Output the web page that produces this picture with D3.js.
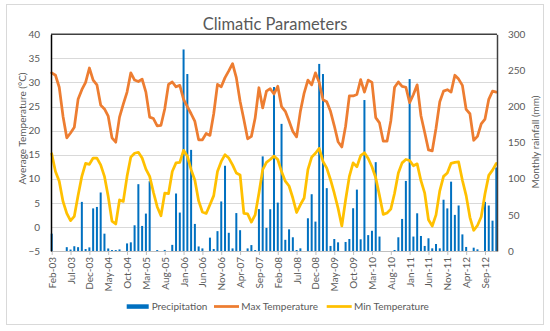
<!DOCTYPE html>
<html>
<head>
<meta charset="utf-8">
<script src="https://cdn.jsdelivr.net/npm/d3@7"></script>
<style>
  body { margin: 0; background: #fff; }
  text { font-family: Lato, "Open Sans", sans-serif; fill: #595959; }
</style>
</head>
<body>
<div id="chart"></div>
<script>
// monthly values, Feb-03 .. Dec-12 (119 months)
var precipitation = [24,0,0,0,5.3,2,6.6,5.3,68,2.7,5,59,61,81,24,3.5,1.3,1.3,2.2,0,
  10.5,12,35.6,92.5,34.7,51.8,96.6,0,1.3,0,1.5,0,8.5,79.6,53.2,279,245,140,37.5,6.3,
  3.6,0,18.5,2.8,27.5,68.6,118,25.2,3.6,52.5,28.8,0,3.6,8.2,1.3,58,131,32,57.8,227,
  67,176,15.5,30,19,1.4,3.7,0,45.3,78.6,40.7,259,245,87,7,16.6,12,0,12.5,16.6,
  59.2,85,16.2,209,22,28,123,20,0,0,0,1.4,19,44.4,97,238,20,52.2,20.8,7,
  17.6,3.7,9.7,3.7,71,59,96,50,63,23,5.6,0,4.6,2.3,0,68,63,42,115.6];

var maxTemp = [32,31.5,29,23,18.5,19.5,20.7,26.5,28.5,30,33,30.5,29.5,25.3,24.5,23,18.5,17.6,22.8,25.5,
  28,32,30.5,30.2,30.7,28,22.8,22.5,21,21.1,24.5,29.6,30.1,29.1,29.4,26.5,25,23.5,21.9,18.1,
  18.1,19.4,19,23.5,29.6,29.1,31,32.4,33.9,31,26.1,22.3,18.3,18.8,22.6,28.9,24.7,28.2,28.7,27.6,
  29.2,25,24,22,19.8,18.7,24,27.8,30.5,29.5,32,30,26.4,26,24,21,17.7,16.6,20.9,27.2,
  27.2,27.5,30.6,28,30.5,30,22.7,21.6,17.8,17.8,22,29,30.1,29.2,29,25.8,27.5,29.5,23.1,19.6,
  16,15.8,20.5,26,28.2,28.5,28,31.5,30.7,29.4,24.4,23.5,18,18.8,21.4,22.4,26.5,28.2,28];

var minTemp = [15.2,11.5,9.5,5.3,2.8,1.3,2.2,6.5,10.5,13.2,13,14.3,14.3,12.9,10.5,6.3,1.2,0.6,5.6,5.3,
  10.5,14.5,15.3,15.5,14.3,12,10.5,7.2,4.2,2.3,7,6.9,11.5,13.3,13.4,15.9,14.7,11.9,9.7,5.4,
  3.1,2.8,4.6,6.5,11.5,13.6,15,14.3,12.9,11.2,10.8,2.8,2.7,1,2.5,7,11.9,13.4,14,14.7,
  14,11.5,9.5,8.5,6,3,4.6,6,11.9,14.5,15.3,16.3,13.6,12.2,9.8,7,3.9,0.2,5.6,10.5,
  13.3,12.5,14.8,15.4,14.2,12.5,10.2,6.5,2.6,2.9,3.7,7,11.2,13.3,14,13.8,12.7,13.1,9.6,7,
  1.5,0.2,2.5,7.5,10.5,11.2,13.2,13.4,13.5,9.7,6.5,2,-0.7,0.3,2.1,6.9,10.7,11.8,13.2];

var tempTicks = [-5,0,5,10,15,20,25,30,35,40];
var rainTicks = [0,50,100,150,200,250,300];
var seriesNames = ["Precipitation", "Max Temperature", "Min Temperature"];
var seriesColors = ["#0070C0", "#ED7D31", "#FFC000"];

var firstMonth = new Date(2003, 1, 1);
var months = d3.timeMonth.range(firstMonth, d3.timeMonth.offset(firstMonth, precipitation.length));
var categories = months.map(d3.timeFormat("%b-%y"));
var tickLabels = categories.filter(function(d, i) { return i % 5 == 0; });

var width = 550, height = 331;
var plot = {left: 51, right: 497, top: 34.3, bottom: 251};

var svg = d3.select("#chart").append("svg")
    .attr("width", width)
    .attr("height", height);

// outer chart border
svg.append("rect")
    .attr("x", 6.5).attr("y", 4.5)
    .attr("width", 537).attr("height", 320)
    .attr("fill", "#fff")
    .attr("stroke", "#d9d9d9");

var xscale = d3.scalePoint()
    .domain(categories)
    .range([plot.left + 0.7, plot.right - 0.7]);

var ytemp = d3.scaleLinear()
    .domain([-5, 40])
    .range([plot.bottom, plot.top]);

var yrain = d3.scaleLinear()
    .domain([0, 300])
    .range([plot.bottom, plot.top]);

// gridlines
svg.append("g")
  .selectAll("line")
  .data(tempTicks.slice(1, -1))
  .join("line")
    .attr("x1", plot.left).attr("x2", plot.right)
    .attr("y1", function(d) { return Math.round(ytemp(d)) + 0.5; })
    .attr("y2", function(d) { return Math.round(ytemp(d)) + 0.5; })
    .attr("stroke", "#d9d9d9");

// precipitation bars
svg.append("g")
  .selectAll("rect")
  .data(precipitation)
  .join("rect")
    .attr("x", function(d, i) { return xscale(categories[i]) - 1; })
    .attr("y", function(d) { return yrain(d); })
    .attr("width", 2)
    .attr("height", function(d) { return plot.bottom - yrain(d); })
    .attr("fill", seriesColors[0]);

// temperature lines
var line = d3.line()
    .x(function(d, i) { return xscale(categories[i]); })
    .y(function(d) { return ytemp(d); });

[maxTemp, minTemp].forEach(function(series, k) {
  svg.append("path")
      .datum(series)
      .attr("d", line)
      .attr("fill", "none")
      .attr("stroke", seriesColors[k + 1])
      .attr("stroke-width", 2.75)
      .attr("stroke-linejoin", "round")
      .attr("stroke-linecap", "round");
});

// axes
var gx = svg.append("g")
    .attr("transform", "translate(0," + plot.bottom + ")")
    .call(d3.axisBottom(xscale).tickValues(tickLabels).tickSizeInner(4).tickSizeOuter(0));
gx.select(".domain").remove();
gx.selectAll(".tick line").attr("stroke", "#bfbfbf");
gx.selectAll(".tick text")
    .attr("transform", "translate(0,6) rotate(-90)")
    .attr("x", 0).attr("y", 0).attr("dy", "0.35em")
    .attr("text-anchor", "end")
    .attr("font-size", 10)
    .attr("fill", "#595959");

svg.append("line")
    .attr("x1", plot.left).attr("x2", plot.right)
    .attr("y1", plot.bottom + 0.5).attr("y2", plot.bottom + 0.5)
    .attr("stroke", "#bfbfbf");

svg.append("line")
    .attr("x1", plot.left).attr("x2", plot.right)
    .attr("y1", plot.top).attr("y2", plot.top)
    .attr("stroke", "#404040")
    .attr("stroke-width", 1.5);

var gl = svg.append("g")
    .attr("transform", "translate(" + plot.left + ",0)")
    .call(d3.axisLeft(ytemp).tickValues(tempTicks).tickSize(0).tickPadding(11));
gl.select(".domain").attr("stroke", "#000").attr("stroke-width", 1.5);
gl.selectAll(".tick text").attr("font-size", 10).attr("fill", "#595959");

var gr = svg.append("g")
    .attr("transform", "translate(" + plot.right + ",0)")
    .call(d3.axisRight(yrain).tickValues(rainTicks).tickSize(0).tickPadding(11));
gr.select(".domain").attr("stroke", "#404040").attr("stroke-width", 1.5);
gr.selectAll(".tick text").attr("font-size", 10).attr("fill", "#595959");

// titles
svg.append("text")
    .attr("x", 275).attr("y", 30)
    .attr("text-anchor", "middle")
    .attr("font-size", 16.5)
    .text("Climatic Parameters");

svg.append("text")
    .attr("transform", "translate(25.5,128.5) rotate(-90)")
    .attr("text-anchor", "middle")
    .attr("font-size", 10)
    .text("Average Temperature (°C)");

svg.append("text")
    .attr("transform", "translate(539,142) rotate(-90)")
    .attr("text-anchor", "middle")
    .attr("font-size", 10)
    .text("Monthly rainfall (mm)");

// legend
var legendX = [126.7, 214, 326.7];
var legend = svg.append("g");
legend.append("rect")
    .attr("x", legendX[0]).attr("y", 304.3)
    .attr("width", 22).attr("height", 4.5)
    .attr("fill", seriesColors[0]);
[1, 2].forEach(function(k) {
  legend.append("line")
      .attr("x1", legendX[k]).attr("x2", legendX[k] + 25)
      .attr("y1", 306.5).attr("y2", 306.5)
      .attr("stroke", seriesColors[k])
      .attr("stroke-width", 2.75);
});
legend.selectAll("text")
  .data(seriesNames)
  .join("text")
    .attr("x", function(d, i) { return legendX[i] + (i == 0 ? 25 : 27.3); })
    .attr("y", 309.5)
    .attr("font-size", 10)
    .text(function(d) { return d; });
</script>
</body>
</html>
